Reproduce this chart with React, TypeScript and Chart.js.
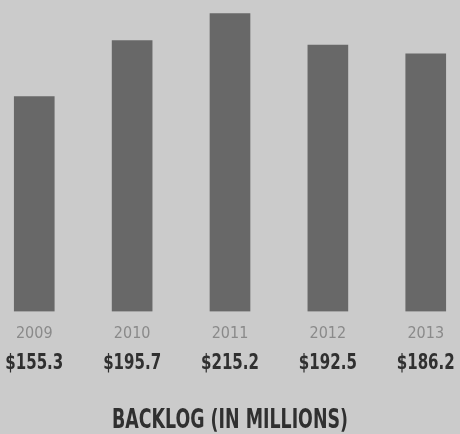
import React, { useEffect, useRef } from "react";
import { Chart, registerables } from "chart.js";

Chart.register(...registerables);

const years = ["2009", "2010", "2011", "2012", "2013"];
const backlog = [155.3, 195.7, 215.2, 192.5, 186.2];
const valueLabels = backlog.map((v) => "$" + v.toFixed(1));
const titleText = "BACKLOG (IN MILLIONS)";

const FONT = '"DejaVu Sans Condensed", "DejaVu Sans", sans-serif';

export default function App() {
  const ref = useRef<HTMLCanvasElement | null>(null);

  useEffect(() => {
    if (!ref.current) return;
    const bg = {
      id: "bg",
      beforeDraw(chart: any) {
        const { ctx, width, height } = chart;
        ctx.save();
        ctx.fillStyle = "#cbcbcb";
        ctx.fillRect(0, 0, width, height);
        ctx.restore();
      },
    };
    const labelsPlugin = {
      id: "labelsPlugin",
      afterDraw(chart: any) {
        const { ctx, width } = chart;
        const xs = chart.scales.x;
        const area = chart.chartArea;
        ctx.save();
        ctx.textAlign = "center";
        ctx.textBaseline = "alphabetic";
        years.forEach((yr, i) => {
          const px = xs.getPixelForValue(i);
          ctx.fillStyle = "#8a8a8a";
          ctx.font = `normal 16px ${FONT}`;
          ctx.fillText(yr, px, area.bottom + 26, 38);
          ctx.fillStyle = "#303030";
          ctx.font = `bold 22px ${FONT}`;
          ctx.fillText(valueLabels[i], px, area.bottom + 57.5, 58);
        });
        ctx.fillStyle = "#303030";
        ctx.font = `bold 26px ${FONT}`;
        ctx.fillText(titleText, width / 2, area.bottom + 116.5, 236);
        ctx.restore();
      },
    };
    const chart = new Chart(ref.current, {
      type: "bar",
      data: {
        datasets: [
          {
            data: backlog.map((v, i) => ({ x: i, y: v })),
            backgroundColor: "#686868",
            borderWidth: 0,
            barThickness: 40,
          },
        ],
      },
      options: {
        animation: false,
        responsive: false,
        maintainAspectRatio: false,
        layout: { padding: { left: 0, right: 0, top: 0, bottom: 122.5 } },
        plugins: {
          legend: { display: false },
          tooltip: { enabled: false },
          title: { display: false },
        },
        scales: {
          x: {
            type: "linear",
            display: false,
            offset: false,
            min: -0.35,
            max: 4.35,
          },
          y: {
            display: false,
            min: 0,
            max: 225,
          },
        },
      },
      plugins: [bg, labelsPlugin],
    });
    return () => chart.destroy();
  }, []);

  return (
    <div style={{ position: "fixed", left: 0, top: 0, width: 460, height: 434 }}>
      <canvas ref={ref} width={460} height={434} style={{ width: 460, height: 434 }} />
    </div>
  );
}
